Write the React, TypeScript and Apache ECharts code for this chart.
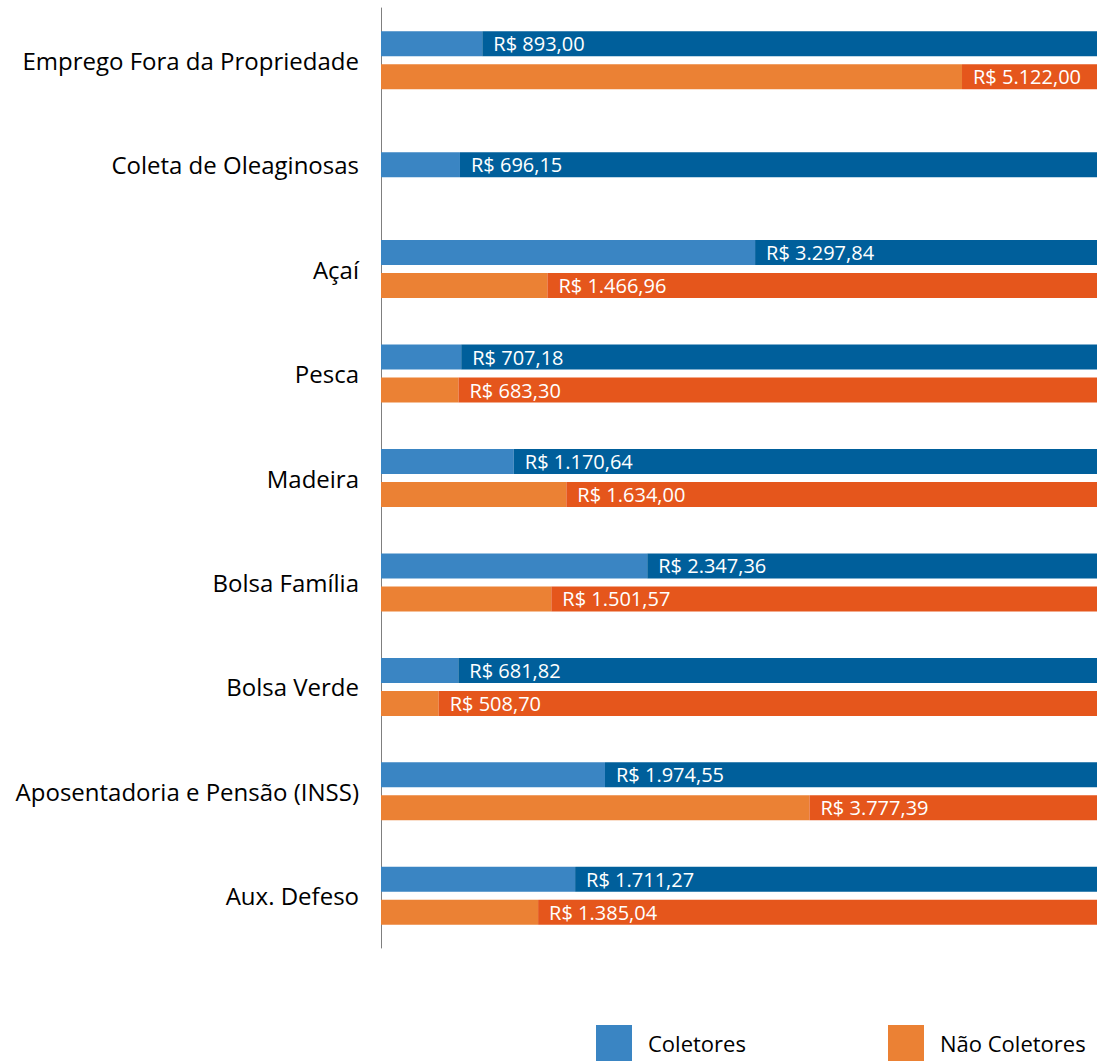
import React, { useEffect, useRef } from "react";
import * as echarts from "echarts";

const categories = [
  "Emprego Fora da Propriedade",
  "Coleta de Oleaginosas",
  "Açaí",
  "Pesca",
  "Madeira",
  "Bolsa Família",
  "Bolsa Verde",
  "Aposentadoria e Pensão (INSS)",
  "Aux. Defeso",
];
const coletores: (number | null)[] = [893.0, 696.15, 3297.84, 707.18, 1170.64, 2347.36, 681.82, 1974.55, 1711.27];
const naoColetores: (number | null)[] = [5122.0, null, 1466.96, 683.3, 1634.0, 1501.57, 508.7, 3777.39, 1385.04];
const axisMax = 6312;

function fmt(v: number): string {
  const [i, d] = v.toFixed(2).split(".");
  const withDots = i.replace(/\B(?=(\d{3})+(?!\d))/g, ".");
  return "R$ " + withDots + "," + d;
}

const FONT = "Open Sans";
const LIGHT_BLUE = "#3A85C3";
const DARK_BLUE = "#005F9B";
const LIGHT_ORANGE = "#EB8134";
const DARK_ORANGE = "#E5561C";

export default function App() {
  const ref = useRef<HTMLDivElement>(null);
  useEffect(() => {
    if (!ref.current) return;
    const chart = echarts.init(ref.current, null, { renderer: "svg" });
    // categories with both series use paired layout; single-series categories are centered
    const colPaired = coletores.map((v, i) => (naoColetores[i] == null ? null : v));
    const colSolo = coletores.map((v, i) => (naoColetores[i] == null ? v : null));
    const rest = (arr: (number | null)[]) => arr.map((v) => (v == null ? null : axisMax - v));
    const labelCfg = (arr: (number | null)[]) => ({
      show: true,
      position: "insideLeft",
      distance: 11,
      color: "#ffffff",
      fontFamily: FONT,
      fontSize: 20,
      formatter: (p: any) => {
        const v = arr[p.dataIndex];
        return v == null ? "" : fmt(v);
      },
    });
    const common = { type: "bar", barWidth: 25, barGap: "32%" };
    const legendCommon = {
      top: 1025,
      padding: 0,
      itemWidth: 36,
      itemHeight: 36,
      icon: "rect",
      textStyle: { fontFamily: FONT, fontSize: 22, color: "#000", padding: [3, 0, 0, 11] },
    };
    chart.setOption({
      animation: false,
      grid: { left: 381, right: 0, top: 8, height: 940, containLabel: false },
      xAxis: { type: "value", min: 0, max: axisMax, show: false },
      yAxis: [
        {
          type: "category",
          data: categories,
          inverse: true,
          axisLine: { show: true, lineStyle: { color: "#7f7f7f", width: 1 } },
          axisTick: { show: false },
          axisLabel: { color: "#000000", fontFamily: FONT, fontSize: 24, margin: 22 },
          splitLine: { show: false },
        },
        {
          type: "category",
          data: categories,
          inverse: true,
          position: "left",
          show: false,
        },
      ],
      legend: [
        { ...legendCommon, data: ["Coletores"], left: 596 },
        { ...legendCommon, data: ["Não Coletores"], left: 888 },
      ],
      series: [
        { ...common, name: "Coletores", stack: "c", data: colPaired, itemStyle: { color: LIGHT_BLUE } },
        {
          ...common,
          name: "Coletores rótulo",
          stack: "c",
          data: rest(colPaired),
          itemStyle: { color: DARK_BLUE },
          label: labelCfg(colPaired),
        },
        { ...common, name: "Não Coletores", stack: "n", data: naoColetores, itemStyle: { color: LIGHT_ORANGE } },
        {
          ...common,
          name: "Não Coletores rótulo",
          stack: "n",
          data: rest(naoColetores),
          itemStyle: { color: DARK_ORANGE },
          label: labelCfg(naoColetores),
        },
        { ...common, name: "Coletores", yAxisIndex: 1, stack: "s", data: colSolo, itemStyle: { color: LIGHT_BLUE } },
        {
          ...common,
          name: "Coletores rótulo solo",
          yAxisIndex: 1,
          stack: "s",
          data: rest(colSolo),
          itemStyle: { color: DARK_BLUE },
          label: labelCfg(colSolo),
        },
      ],
    });
    return () => chart.dispose();
  }, []);
  return <div ref={ref} style={{ width: 1097, height: 1061, position: "absolute", left: 0, top: 0 }} />;
}
